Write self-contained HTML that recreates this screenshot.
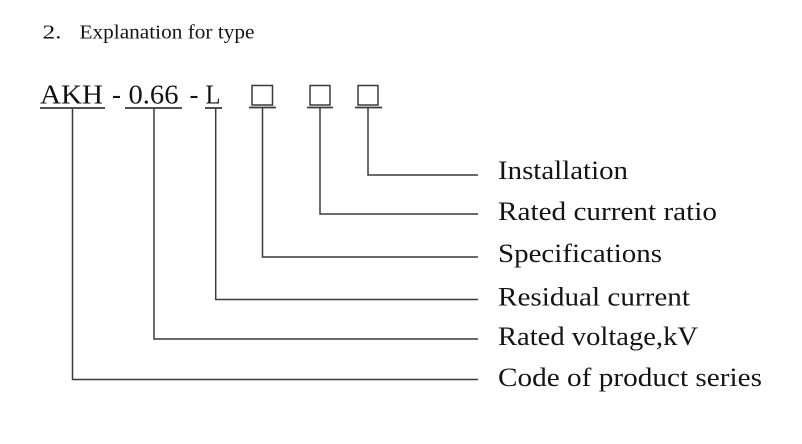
<!DOCTYPE html>
<html>
<head>
<meta charset="utf-8">
<style>
html,body{margin:0;padding:0;background:#fff;}
body{width:802px;height:444px;overflow:hidden;}
svg{display:block;}
text{font-family:"Liberation Serif","Times New Roman",serif;fill:#141414;}
</style>
</head>
<body>
<svg width="802" height="444" viewBox="0 0 802 444" xmlns="http://www.w3.org/2000/svg">
  <!-- title -->
  <text x="42.5" y="38.5" font-size="20" textLength="19" lengthAdjust="spacingAndGlyphs">2.</text>
  <text x="79.5" y="38.5" font-size="20.5" textLength="175" lengthAdjust="spacingAndGlyphs">Explanation for type</text>

  <!-- model code -->
  <text x="40" y="103.5" font-size="27" textLength="63" lengthAdjust="spacingAndGlyphs">AKH</text>
  <text x="112" y="103.5" font-size="27">-</text>
  <text x="128.5" y="103.5" font-size="27" textLength="50" lengthAdjust="spacingAndGlyphs">0.66</text>
  <text x="189.5" y="103.5" font-size="27">-</text>
  <text x="205.5" y="103.5" font-size="27" textLength="15" lengthAdjust="spacingAndGlyphs">L</text>

  <g stroke="#3a3a3a" fill="none">
    <!-- underlines -->
    <line x1="40" y1="108" x2="105" y2="108" stroke-width="1.8"/>
    <line x1="125" y1="108" x2="182" y2="108" stroke-width="1.8"/>
    <line x1="205" y1="108" x2="222" y2="108" stroke-width="1.8"/>
    <line x1="249" y1="107.5" x2="276" y2="107.5" stroke-width="1.8"/>
    <line x1="307" y1="107.5" x2="333" y2="107.5" stroke-width="1.8"/>
    <line x1="355" y1="107.5" x2="382" y2="107.5" stroke-width="1.8"/>
    <!-- boxes -->
    <rect x="252" y="85.5" width="20.5" height="19.5" stroke-width="1.5"/>
    <rect x="310" y="85.5" width="20" height="19.5" stroke-width="1.5"/>
    <rect x="358" y="85.5" width="20" height="19.5" stroke-width="1.5"/>

    <!-- connectors -->
    <polyline points="72.5,108 72.5,379.5 478,379.5" stroke-width="1.5"/>
    <polyline points="154,108 154,339 478,339" stroke-width="1.5"/>
    <polyline points="215.7,108 215.7,299.5 478,299.5" stroke-width="1.5"/>
    <polyline points="262.5,108 262.5,257 478,257" stroke-width="1.5"/>
    <polyline points="320,108 320,214 478,214" stroke-width="1.5"/>
    <polyline points="368,108 368,175 478,175" stroke-width="1.5"/>
  </g>

  <!-- labels -->
  <text x="498" y="179" font-size="26" textLength="130" lengthAdjust="spacingAndGlyphs">Installation</text>
  <text x="498" y="220" font-size="26" textLength="219" lengthAdjust="spacingAndGlyphs">Rated current ratio</text>
  <text x="498" y="262" font-size="26" textLength="164" lengthAdjust="spacingAndGlyphs">Specifications</text>
  <text x="498" y="305.5" font-size="26" textLength="192" lengthAdjust="spacingAndGlyphs">Residual current</text>
  <text x="498" y="345" font-size="26" textLength="200" lengthAdjust="spacingAndGlyphs">Rated voltage,kV</text>
  <text x="498" y="386" font-size="26" textLength="264" lengthAdjust="spacingAndGlyphs">Code of product series</text>
</svg>
</body>
</html>
